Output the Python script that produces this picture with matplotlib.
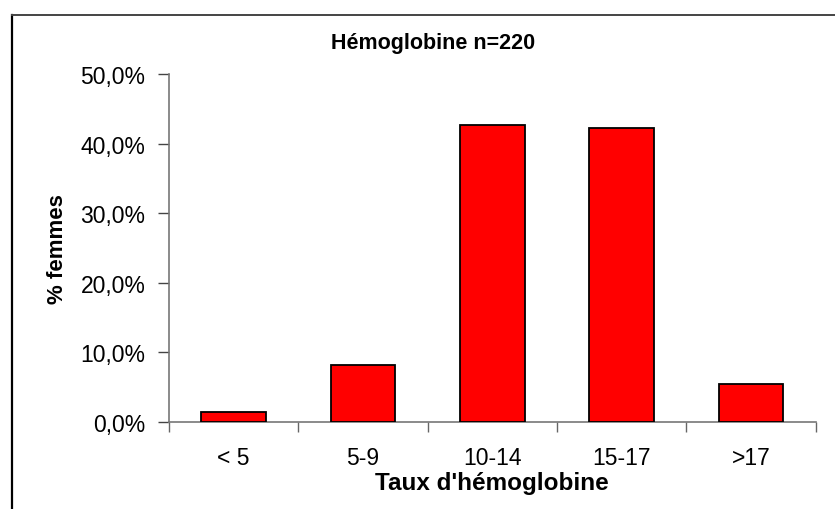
import matplotlib.pyplot as plt
from matplotlib.lines import Line2D
from matplotlib.ticker import FuncFormatter

plt.rcParams['font.family'] = ['Liberation Sans', 'DejaVu Sans']

# Données (n=220)
categories = ['< 5', '5-9', '10-14', '15-17', '>17']
pourcentages = [1.4, 8.2, 42.7, 42.3, 5.5]
yticks = [0, 10, 20, 30, 40, 50]

fig = plt.figure(figsize=(8.35, 5.1), dpi=100)
ax = fig.add_axes([169 / 835, 1 - 423 / 510, (815.5 - 169) / 835, (423 - 75) / 510])

x = list(range(len(categories)))
ax.bar(x, pourcentages, width=0.5, color='#ff0000', edgecolor='black', linewidth=1.3, zorder=3)

ax.set_xlim(-0.5, len(categories) - 0.5)
ax.set_ylim(0, 50)
ax.set_yticks(yticks)
ax.yaxis.set_major_formatter(FuncFormatter(lambda v, p: f'{v:.1f}%'.replace('.', ',')))

# ticks de l'axe x entre les catégories
ax.set_xticks([i - 0.5 for i in range(len(categories) + 1)])
ax.set_xticklabels([])
ax.set_xticks(x, minor=True)
ax.set_xticklabels(categories, minor=True)
ax.tick_params(axis='x', which='minor', length=0, pad=17, labelsize=16.5)
ax.tick_params(axis='x', which='major', length=7, width=1, color='#666666', direction='out')
ax.tick_params(axis='y', length=8, width=1, color='#444444', direction='out', pad=9, labelsize=16.5)

for s in ['top', 'right']:
    ax.spines[s].set_visible(False)
for s in ['left', 'bottom']:
    ax.spines[s].set_color('#777777')
    ax.spines[s].set_linewidth(1.2)

ax.set_xlabel("Taux d'hémoglobine", fontsize=17.5, fontweight='bold', labelpad=2)
ax.set_ylabel('% femmes', fontsize=16, fontweight='bold', labelpad=9)

fig.text(433 / 835, 1 - 44 / 510, 'Hémoglobine n=220', ha='center', va='center',
         fontsize=15.5, fontweight='bold')

# cadre du graphique (haut et gauche)
fig.add_artist(Line2D([11.5 / 835, 11.5 / 835], [0, 1 - 16 / 510], color='black', linewidth=1.6,
                      transform=fig.transFigure))
fig.add_artist(Line2D([11.5 / 835, 1], [1 - 16 / 510, 1 - 16 / 510], color='#444444', linewidth=1.4,
                      transform=fig.transFigure))

fig.savefig('out.png', dpi=100)
